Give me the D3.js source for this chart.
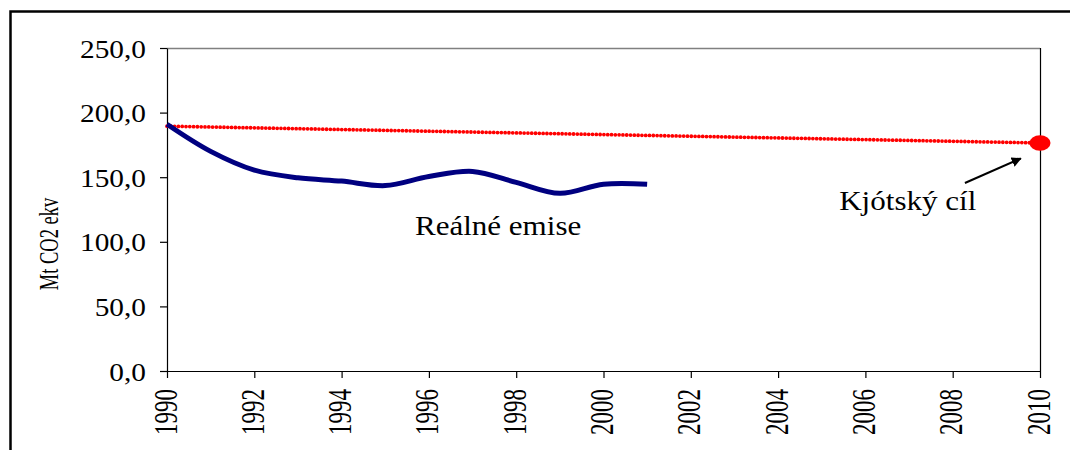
<!DOCTYPE html>
<html>
<head>
<meta charset="utf-8">
<script src="https://cdn.jsdelivr.net/npm/d3@7"></script>
<style>
  body { margin: 0; background: #fff; }
  svg text { font-family: "Liberation Serif", "Times New Roman", serif; fill: #000; }
</style>
</head>
<body>
<div id="chart"></div>
<script>
// years and values (Mt CO2 ekv)
const emisYears  = [1990, 1991, 1992, 1993, 1994, 1995, 1996, 1997, 1998, 1999, 2000, 2001]
const emisValues = [191, 170, 155.5, 149.5, 147, 143.5, 150.5, 154.5, 146, 137.5, 144.5, 144.5]
const targetYears  = [1990, 2010]
const targetValues = [189.5, 176.5]
const xTicks = [1990, 1992, 1994, 1996, 1998, 2000, 2002, 2004, 2006, 2008, 2010]
const yTicks = [0, 50, 100, 150, 200, 250]

const width = 1070, height = 450
const sx = 1.15     // the original picture is stretched sideways
const sxRot = 1.45  // rotated text gets stretched across its glyphs

const serif = '"Liberation Serif", "Times New Roman", serif'

const svg = d3.select("#chart").append("svg")
  .attr("width", width)
  .attr("height", height)

// outer chart frame (cut off at the right and bottom)
svg.append("rect")
  .attr("x", 10.5).attr("y", 11.5)
  .attr("width", 1080).attr("height", 470)
  .attr("fill", "none")
  .attr("stroke", "#000")
  .attr("stroke-width", 2.5)

const x = d3.scaleLinear().domain([1990, 2010]).range([167, 1040])
const y = d3.scaleLinear().domain([0, 250]).range([371, 48])

const comma = d3.formatLocale({ decimal: ",", thousands: " ", grouping: [3], currency: ["", ""] }).format(".1f")

// plot area border, top and right
svg.append("line")
  .attr("x1", x(1990)).attr("x2", x(2010))
  .attr("y1", y(250) + 0.5).attr("y2", y(250) + 0.5)
  .attr("stroke", "#808080").attr("stroke-width", 1.5)
svg.append("line")
  .attr("x1", x(2010) + 0.5).attr("x2", x(2010) + 0.5)
  .attr("y1", y(250)).attr("y2", y(0))
  .attr("stroke", "#000").attr("stroke-width", 1.2)

const yAxis = svg.append("g")
  .attr("transform", `translate(${x(1990)},0)`)
  .call(d3.axisLeft(y).tickValues(yTicks).tickFormat(comma).tickSize(7).tickSizeOuter(0))
yAxis.selectAll("text")
  .attr("x", null).attr("dy", null)
  .attr("text-anchor", "end")
  .attr("transform", `translate(-21,9) scale(${sx},1)`)
  .style("font-family", serif)
  .style("font-size", "25.5px")

const xAxis = svg.append("g")
  .attr("transform", `translate(0,${y(0)})`)
  .call(d3.axisBottom(x).tickValues(xTicks).tickFormat(d3.format("d")).tickSize(7).tickSizeOuter(0))
xAxis.selectAll("text")
  .attr("y", null).attr("dy", null)
  .attr("text-anchor", "end")
  .attr("transform", `translate(9,18) scale(${sxRot},1) rotate(-90)`)
  .style("font-family", serif)
  .style("font-size", "23px")

svg.selectAll(".domain, .tick line")
  .attr("stroke", "#000")
  .attr("stroke-width", 1.2)
svg.selectAll(".tick text").attr("fill", "#000")

// y axis title
svg.append("text")
  .attr("transform", `translate(58,244) scale(${sxRot},1) rotate(-90)`)
  .attr("text-anchor", "middle")
  .style("font-family", serif)
  .style("font-size", "18.5px")
  .text("Mt CO2 ekv")

// Kyoto target line - red dotted
const target = targetYears.map((d, i) => [d, targetValues[i]])
svg.append("path")
  .datum(target)
  .attr("fill", "none")
  .attr("stroke", "#ff0000")
  .attr("stroke-width", 3.8)
  .attr("stroke-linecap", "round")
  .attr("stroke-dasharray", "0 3.8")
  .attr("d", d3.line().x(d => x(d[0])).y(d => y(d[1])))

svg.append("ellipse")
  .attr("cx", x(2010)).attr("cy", y(targetValues[1]))
  .attr("rx", 10.5).attr("ry", 7.8)
  .attr("fill", "#ff0000")

// real emissions - smoothed navy line
const emis = emisYears.map((d, i) => [d, emisValues[i]])
svg.append("path")
  .datum(emis)
  .attr("fill", "none")
  .attr("stroke", "#000080")
  .attr("stroke-width", 5)
  .attr("stroke-linejoin", "round")
  .attr("d", d3.line().x(d => x(d[0])).y(d => y(d[1])).curve(d3.curveCatmullRom.alpha(0.5)))

// labels
svg.append("text")
  .attr("transform", `translate(${x(1995.68)},${y(105.3)}) scale(${sx},1)`)
  .style("font-family", serif)
  .style("font-size", "27px")
  .text("Reálné emise")

svg.append("text")
  .attr("transform", `translate(${x(2005.4)},${y(124.6)}) scale(${sx},1)`)
  .style("font-family", serif)
  .style("font-size", "27px")
  .text("Kjótský cíl")

// arrow to the target point
svg.append("defs").append("marker")
  .attr("id", "head")
  .attr("viewBox", "0 0 10 10")
  .attr("refX", 9).attr("refY", 5)
  .attr("markerWidth", 5).attr("markerHeight", 5)
  .attr("orient", "auto")
  .append("path")
  .attr("d", "M0,0 L10,5 L0,10 z")
  .attr("fill", "#000")

svg.append("line")
  .attr("x1", x(2008.28)).attr("y1", y(145.5))
  .attr("x2", x(2009.56)).attr("y2", y(164.5))
  .attr("stroke", "#000")
  .attr("stroke-width", 2)
  .attr("marker-end", "url(#head)")
</script>
</body>
</html>
